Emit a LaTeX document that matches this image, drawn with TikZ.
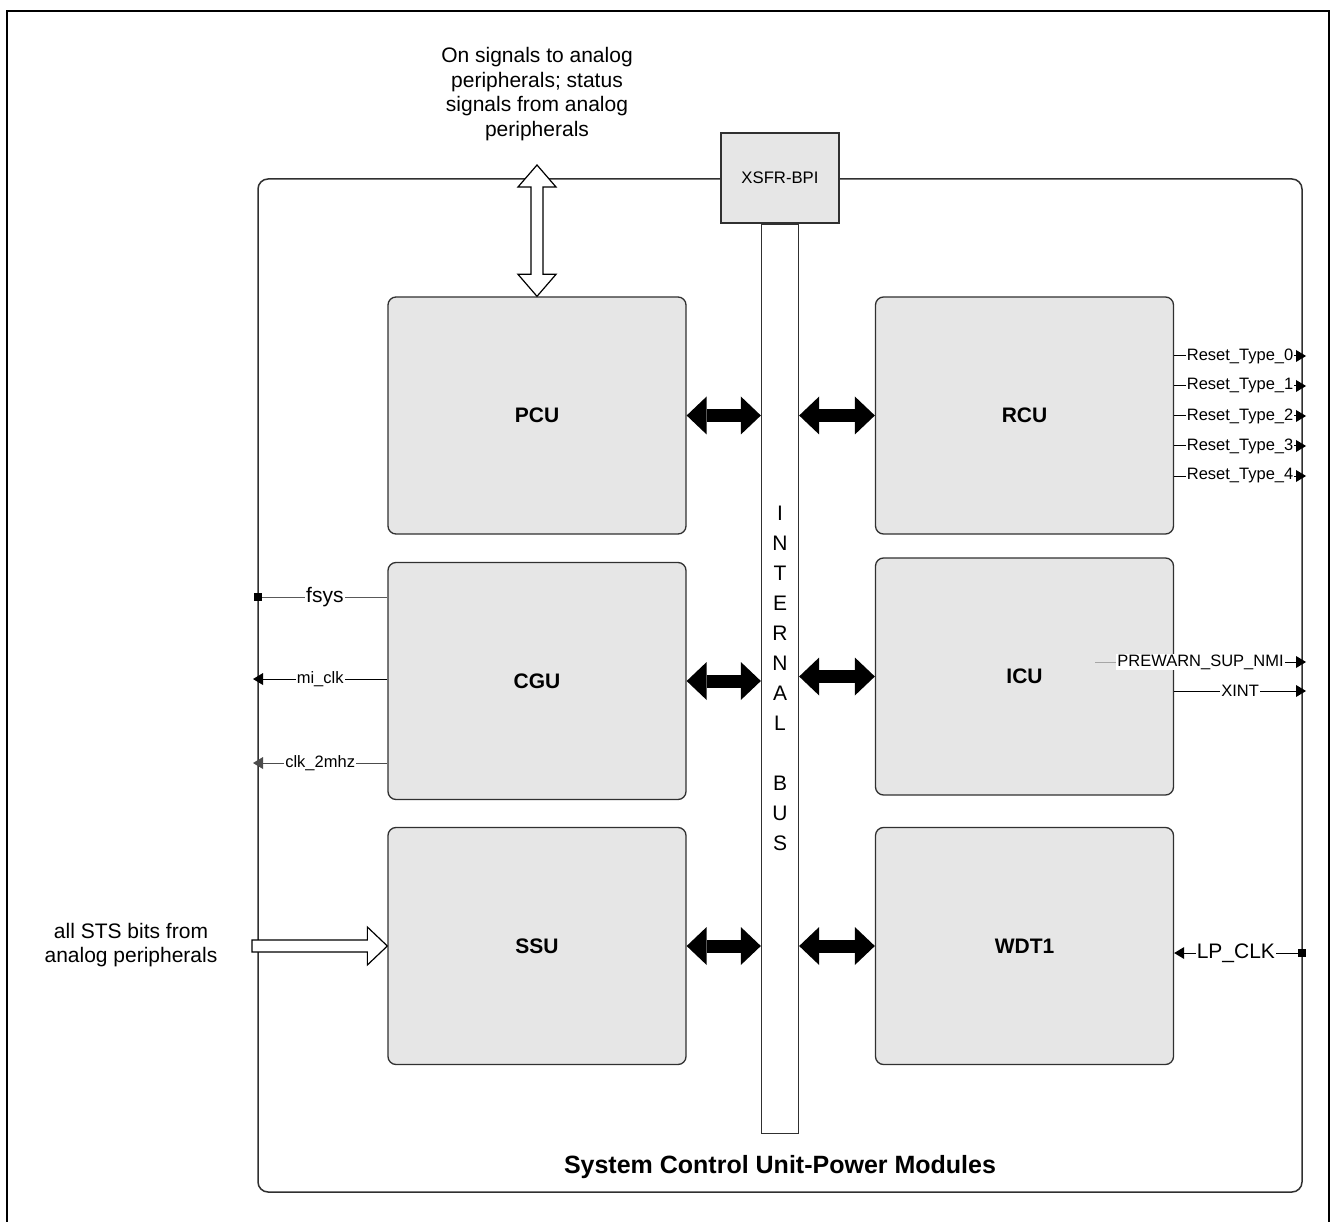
\documentclass[tikz,border=0pt]{standalone}
\usepackage{fontspec}
\setmainfont{Liberation Sans}
\usetikzlibrary{arrows.meta,calc}
\definecolor{boxgray}{HTML}{E6E6E6}
\definecolor{edge}{HTML}{303030}
\begin{document}
\begin{tikzpicture}[x=1pt,y=-1pt,
  blk/.style={draw=edge, line width=1.3pt, fill=boxgray, rounded corners=8pt,
    minimum width=298pt, minimum height=237pt, inner sep=0pt,
    font=\fontsize{21}{24}\selectfont\bfseries},
  bigarrow/.style={line width=13pt,
    {Triangle[length=20pt,width=38pt,line width=0pt]}-{Triangle[length=20pt,width=38pt,line width=0pt]}},
  hollow/.style={draw=black, line width=1.2pt, fill=white, line join=miter},
  tipr/.style={line width=1pt, -{Triangle[length=10pt,width=12pt,line width=0pt]}},
  sq/.style={fill=black, minimum size=8.5pt, inner sep=0pt},
  lbl/.style={fill=white, inner sep=1pt},
  small/.style={font=\fontsize{16.5}{20}\selectfont},
  mid/.style={font=\fontsize{21}{24}\selectfont},
]
\useasboundingbox (0,0) rectangle (1331,1222);
% outer frame
\draw[line width=1.2pt] (7,1240) -- (7,11) -- (1329,11) -- (1329,1240);

% main unit
\node[draw=edge, line width=1.5pt, rounded corners=10pt, minimum width=1044pt,
  minimum height=1013pt, inner sep=0pt] (scu) at (780,685.5) {};
\node[font=\fontsize{25}{28}\selectfont\bfseries] (scul) at (780,1167) {System Control Unit-Power Modules};

% XSFR-BPI and bus
\node[draw=edge, line width=1.3pt, fill=boxgray, minimum width=118pt, minimum height=90pt,
  inner sep=0pt, font=\fontsize{16.7}{20}\selectfont] (xsfr) at (780,178) {XSFR-BPI};
\node[draw=edge, line width=1.3pt, fill=white, minimum width=37pt, minimum height=909pt,
  inner sep=0pt, anchor=north, align=center, font=\fontsize{21}{30}\selectfont] (bus) at (xsfr.south)
  {I\\N\\T\\E\\R\\N\\A\\L\\\mbox{}\\B\\U\\S};

% blocks
\node[blk] (pcu) at (537,415.5) {PCU};
\node[blk] (cgu) at (537,681) {CGU};
\node[blk] (ssu) at (537,946) {SSU};
\node[blk] (rcu) at (1024.5,415.5) {RCU};
\node[blk] (icu) at (1024.5,676.5) {ICU};
\node[blk] (wdt) at (1024.5,946) {WDT1};

% bus arrows
\foreach \b in {pcu,cgu,ssu} {
  \draw[bigarrow] (\b.east) -- (\b.east -| bus.west);
}
\draw[bigarrow] (rcu.west) -- (rcu.west -| bus.east);
\draw[bigarrow] (icu.west) -- (icu.west -| bus.east);
\draw[bigarrow] (wdt.west) -- (wdt.west -| bus.east);

% top text and hollow vertical arrow
\node[align=center, font=\fontsize{21}{24.5}\selectfont] (topt) at (537,94)
  {On signals to analog\\peripherals; status\\signals from analog\\peripherals};
\coordinate (vtop) at (537,165);
\draw[hollow] (vtop) -- ++(19,22) -- ++(-13,0) -- ($(pcu.north)+(6,-22)$)
  -- ++(13,0) -- (pcu.north) -- ++(-19,-22) -- ++(13,0) -- ($(vtop)+(-6,22)$)
  -- ++(-13,0) -- cycle;

% left text and hollow horizontal arrow
\node[align=center, font=\fontsize{21}{24}\selectfont] (stst) at (131,945)
  {all STS bits from\\analog peripherals};
\coordinate (hl) at (252,946);
\draw[hollow] ($(hl)+(0,-6)$) -- ($(ssu.west)+(-20,-6)$) -- ++(0,-13) -- (ssu.west)
  -- ++(-20,19) -- ++(0,-13) -- ($(hl)+(0,6)$) -- cycle;

% CGU signals
\node[sq] (fsq) at (258,597) {};
\draw[line width=1pt, black!65] (fsq) -- (cgu.west |- fsq)
  node[midway, lbl, text=black, mid] {fsys};
\coordinate (mi) at (253,679);
\draw[tipr] (cgu.west |- mi) -- (mi) node[midway, lbl, small] {mi\_clk};
\coordinate (c2) at (253,763);
\draw[tipr, black!70] (cgu.west |- c2) -- (c2) node[midway, lbl, small, text=black] {clk\_2mhz};

% RCU signals
\foreach \i/\y in {0/356,1/386,2/416,3/446,4/476} {
  \coordinate (r\i) at (1306,\y);
  \draw[tipr] (rcu.east |- r\i) -- (r\i) node[midway, lbl, small] {Reset\_Type\_\i};
}

% ICU signals
\coordinate (pws) at (1095,662);
\coordinate (pwe) at (1306,662);
\draw[tipr] (pws) -- (pwe) node[midway, lbl, small] (pwl) {PREWARN\_SUP\_NMI};
\draw[line width=1pt, black!35] (pws) -- (pwl.west);
\coordinate (xi) at (1306,691);
\draw[tipr] (icu.east |- xi) -- (xi) node[midway, lbl, small] {XINT};

% WDT1 signal
\node[sq] (lpsq) at (1302,953) {};
\draw[tipr] (lpsq) -- (wdt.east |- lpsq) node[midway, lbl, mid] {LP\_CLK};
\end{tikzpicture}
\end{document}
